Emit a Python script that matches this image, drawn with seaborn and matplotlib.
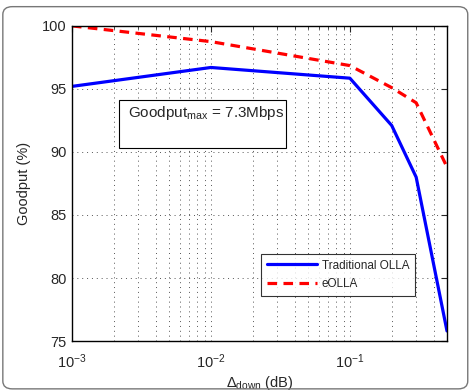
import matplotlib
matplotlib.use("Agg")
import matplotlib.pyplot as plt
import seaborn as sns
import pandas as pd
from matplotlib.patches import FancyBboxPatch, Rectangle
from matplotlib.lines import Line2D
from matplotlib.ticker import LogLocator, NullFormatter

delta = [0.001, 0.01, 0.1, 0.2, 0.3, 0.5]
trad = [95.2, 96.7, 95.85, 92.1, 88.0, 75.8]
eolla = [100.0, 98.75, 96.85, 95.1, 93.9, 88.8]
series_names = ["Traditional OLLA", "eOLLA"]
yticks = [75, 80, 85, 90, 95, 100]

sns.set_style("white")
plt.rcParams['font.family'] = ['Liberation Sans', 'DejaVu Sans']
plt.rcParams['mathtext.fontset'] = 'custom'
plt.rcParams['mathtext.rm'] = 'Liberation Sans'
plt.rcParams['mathtext.it'] = 'Liberation Sans'

df = pd.DataFrame({
    "delta": delta * 2,
    "goodput": trad + eolla,
    "series": [series_names[0]] * len(delta) + [series_names[1]] * len(delta),
})

fig = plt.figure(figsize=(4.72, 3.92), dpi=100)
fig.patches.append(FancyBboxPatch((0.006, 0.008), 0.985, 0.975, boxstyle="round,pad=0,rounding_size=0.02",
                                  transform=fig.transFigure, fill=False, edgecolor="#777777", linewidth=1.0))
ax = fig.add_axes([0.1525, 0.13, 0.7945, 0.804])

sns.lineplot(data=df, x="delta", y="goodput", hue="series", style="series",
             palette={series_names[0]: "#0000ff", series_names[1]: "#ff0000"},
             dashes={series_names[0]: "", series_names[1]: (3, 2)},
             linewidth=2.3, ax=ax, legend=False)

ax.set_xscale("log")
ax.set_xlim(0.001, 0.5)
ax.set_ylim(75, 100)
ax.set_yticks(yticks)
ax.xaxis.set_major_locator(LogLocator(base=10, numticks=10))
ax.xaxis.set_minor_locator(LogLocator(base=10, subs=range(2, 10), numticks=20))
ax.xaxis.set_minor_formatter(NullFormatter())
ax.grid(True, which="major", axis="both", linestyle=(0, (1, 4)), color="#555555", linewidth=0.7)
ax.grid(True, which="minor", axis="x", linestyle=(0, (1, 4)), color="#555555", linewidth=0.7)
ax.tick_params(direction="in", which="both", top=True, right=True, labelsize=10.5, length=4)
ax.tick_params(axis="x", pad=8)
ax.tick_params(axis="y", pad=4)
ax.tick_params(which="minor", length=2)
for s in ax.spines.values():
    s.set_linewidth(1.0)
    s.set_color("black")

ax.set_xlabel(r"$\Delta_{\mathrm{down}}$ (dB)", fontsize=10.5, labelpad=2)
ax.set_ylabel("Goodput (%)", fontsize=10.5, labelpad=8)

ax.add_patch(Rectangle((0.125, 0.613), 0.446, 0.152, transform=ax.transAxes,
                       facecolor="white", edgecolor="black", linewidth=0.8, zorder=4))
ax.text(0.149, 0.711, r"Goodput$_{\mathrm{max}}$ = 7.3Mbps", transform=ax.transAxes,
        fontsize=11, va="baseline", ha="left", zorder=5)

handles = [Line2D([], [], color="#0000ff", lw=2.3),
           Line2D([], [], color="#ff0000", lw=2.3, dashes=(3, 2))]
leg = ax.legend(handles, series_names, loc="lower right", bbox_to_anchor=(0.915, 0.143),
                borderaxespad=0, fontsize=8.5, frameon=True, fancybox=False, edgecolor="black",
                handlelength=4.2, handletextpad=0.4, borderpad=0.5, labelspacing=0.55)
leg.get_frame().set_linewidth(0.8)

fig.savefig("out.png", dpi=100)
